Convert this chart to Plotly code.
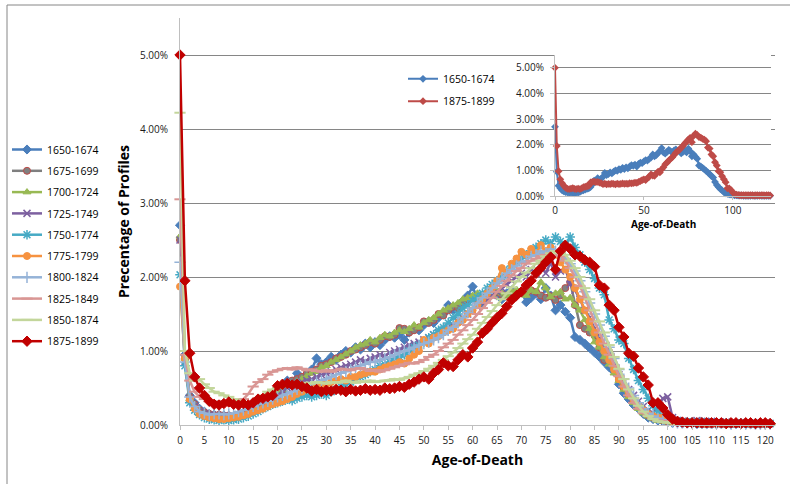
import plotly.graph_objects as go

ages = list(range(122))

series_names = ["1650-1674", "1675-1699", "1700-1724", "1725-1749", "1750-1774",
                "1775-1799", "1800-1824", "1825-1849", "1850-1874", "1875-1899"]

s1650 = [
    2.70, 0.95, 0.40, 0.30, 0.22, 0.18, 0.15, 0.14, 0.12, 0.13,
    0.12, 0.10, 0.14, 0.13, 0.16, 0.20, 0.22, 0.25, 0.28, 0.30,
    0.35, 0.45, 0.60, 0.58, 0.70, 0.62, 0.68, 0.75, 0.90, 0.82,
    0.85, 0.92, 0.88, 0.95, 1.00, 0.98, 1.05, 1.02, 1.10, 1.05,
    1.12, 1.08, 1.15, 1.20, 1.18, 1.22, 1.15, 1.25, 1.30, 1.28,
    1.35, 1.40, 1.38, 1.45, 1.50, 1.62, 1.55, 1.60, 1.68, 1.75,
    1.87, 1.70, 1.65, 1.72, 1.80, 1.75, 1.70, 1.78, 1.82, 1.75,
    1.80, 1.66, 1.72, 1.78, 1.70, 1.85, 1.75, 1.55, 1.62, 1.53,
    1.45, 1.19, 1.15, 1.10, 1.04, 0.98, 0.92, 0.85, 0.78, 0.72,
    0.55, 0.43, 0.35, 0.27, 0.22, 0.15, 0.10, 0.08, 0.06, 0.05,
    0.04, 0.03, 0.03, 0.02, 0.02, 0.02, 0.01, 0.01, 0.01, 0.01,
    0.01, 0.02, 0.01, 0.01, 0.01, 0.02, 0.01, 0.01, 0.01, 0.01,
    0.01, 0.01]

s1675 = [
    2.50, 0.90, 0.38, 0.28, 0.20, 0.17, 0.15, 0.13, 0.14, 0.12,
    0.13, 0.11, 0.13, 0.15, 0.17, 0.20, 0.24, 0.27, 0.30, 0.33,
    0.40, 0.48, 0.55, 0.60, 0.62, 0.65, 0.70, 0.72, 0.75, 0.80,
    0.82, 0.85, 0.90, 0.92, 0.95, 1.00, 1.02, 1.05, 1.08, 1.12,
    1.10, 1.15, 1.20, 1.19, 1.22, 1.31, 1.30, 1.25, 1.28, 1.32,
    1.40, 1.38, 1.42, 1.50, 1.48, 1.55, 1.60, 1.58, 1.65, 1.70,
    1.72, 1.70, 1.75, 1.78, 1.76, 1.80, 1.76, 1.75, 1.78, 1.80,
    1.80, 1.78, 1.82, 1.80, 1.75, 1.72, 1.74, 1.69, 1.75, 1.85,
    1.93, 1.62, 1.35, 1.30, 1.25, 1.21, 1.05, 0.88, 0.99, 0.80,
    0.62, 0.50, 0.40, 0.32, 0.25, 0.18, 0.13, 0.10, 0.08, 0.06,
    0.05, 0.04, 0.03, 0.03, 0.02, 0.02, 0.02, 0.01, 0.01, 0.01,
    0.02, 0.01, 0.01, 0.01, 0.01, 0.01, 0.02, 0.01, 0.01, 0.01,
    0.01, 0.01]

s1700 = [
    2.55, 0.90, 0.35, 0.22, 0.15, 0.12, 0.10, 0.08, 0.10, 0.09,
    0.07, 0.09, 0.12, 0.14, 0.16, 0.20, 0.25, 0.28, 0.32, 0.36,
    0.42, 0.48, 0.52, 0.55, 0.58, 0.62, 0.66, 0.70, 0.72, 0.78,
    0.80, 0.85, 0.88, 0.92, 0.96, 1.00, 1.05, 1.08, 1.10, 1.15,
    1.12, 1.18, 1.22, 1.20, 1.25, 1.28, 1.26, 1.30, 1.35, 1.32,
    1.38, 1.42, 1.45, 1.50, 1.55, 1.58, 1.62, 1.65, 1.70, 1.72,
    1.75, 1.78, 1.72, 1.80, 1.76, 1.82, 1.78, 1.75, 1.80, 1.83,
    1.78, 1.75, 1.82, 1.80, 1.93, 1.85, 1.73, 1.78, 1.80, 1.70,
    1.72, 1.62, 1.55, 1.42, 1.30, 1.12, 1.05, 0.92, 0.82, 0.70,
    0.60, 0.48, 0.38, 0.30, 0.22, 0.16, 0.12, 0.09, 0.06, 0.05,
    0.04, 0.03, 0.03, 0.02, 0.02, 0.02, 0.02, 0.01, 0.01, 0.01,
    0.01, 0.01, 0.02, 0.01, 0.01, 0.01, 0.01, 0.01, 0.02, 0.01,
    0.01, 0.01]

s1725 = [
    2.50, 0.85, 0.35, 0.25, 0.18, 0.15, 0.13, 0.12, 0.11, 0.12,
    0.11, 0.12, 0.14, 0.16, 0.18, 0.22, 0.25, 0.28, 0.32, 0.35,
    0.40, 0.45, 0.50, 0.52, 0.55, 0.58, 0.60, 0.62, 0.65, 0.68,
    0.70, 0.72, 0.75, 0.78, 0.80, 0.82, 0.85, 0.88, 0.86, 0.90,
    0.92, 0.95, 0.93, 0.98, 1.00, 1.02, 1.05, 1.08, 1.10, 1.12,
    1.15, 1.18, 1.22, 1.25, 1.28, 1.32, 1.35, 1.40, 1.45, 1.50,
    1.55, 1.60, 1.65, 1.70, 1.75, 1.80, 1.85, 1.90, 1.95, 2.00,
    2.05, 2.00, 2.10, 2.05, 2.15, 2.05, 2.20, 2.00, 2.08, 2.12,
    1.90, 1.82, 1.70, 1.55, 1.45, 1.30, 1.18, 1.05, 0.92, 0.80,
    0.68, 0.58, 0.48, 0.40, 0.32, 0.25, 0.20, 0.16, 0.25, 0.36,
    0.38, 0.10, 0.06, 0.05, 0.04, 0.04, 0.06, 0.05, 0.04, 0.05,
    0.03, 0.03, 0.04, 0.03, 0.02, 0.03, 0.02, 0.02, 0.02, 0.02,
    0.02, 0.02]

s1750 = [
    2.03, 0.80, 0.30, 0.20, 0.14, 0.10, 0.08, 0.07, 0.06, 0.07,
    0.06, 0.07, 0.08, 0.10, 0.12, 0.15, 0.18, 0.22, 0.25, 0.28,
    0.30, 0.32, 0.35, 0.33, 0.36, 0.38, 0.40, 0.38, 0.40, 0.42,
    0.40, 0.45, 0.48, 0.52, 0.55, 0.58, 0.62, 0.65, 0.68, 0.72,
    0.75, 0.80, 0.82, 0.85, 0.90, 0.92, 0.95, 1.00, 1.05, 1.08,
    1.12, 1.18, 1.22, 1.28, 1.32, 1.38, 1.45, 1.50, 1.58, 1.62,
    1.68, 1.72, 1.78, 1.85, 1.90, 1.95, 2.00, 2.08, 2.15, 2.20,
    2.25, 2.30, 2.35, 2.40, 2.45, 2.50, 2.45, 2.54, 2.48, 2.42,
    2.54, 2.40, 2.30, 2.20, 2.10, 1.98, 1.85, 1.76, 1.42, 1.30,
    1.15, 1.10, 0.90, 0.75, 0.60, 0.48, 0.36, 0.26, 0.18, 0.12,
    0.08, 0.06, 0.05, 0.04, 0.04, 0.04, 0.03, 0.04, 0.03, 0.03,
    0.03, 0.02, 0.03, 0.02, 0.02, 0.03, 0.02, 0.02, 0.02, 0.02,
    0.02, 0.02]

s1775 = [
    1.87, 0.90, 0.35, 0.22, 0.15, 0.12, 0.10, 0.09, 0.08, 0.08,
    0.09, 0.10, 0.11, 0.13, 0.15, 0.18, 0.20, 0.22, 0.25, 0.28,
    0.30, 0.32, 0.35, 0.38, 0.42, 0.45, 0.48, 0.50, 0.52, 0.55,
    0.55, 0.58, 0.60, 0.62, 0.60, 0.65, 0.65, 0.68, 0.70, 0.72,
    0.72, 0.75, 0.78, 0.80, 0.82, 0.85, 0.83, 0.90, 0.95, 1.00,
    1.15, 1.10, 1.18, 1.20, 1.25, 1.28, 1.30, 1.38, 1.42, 1.50,
    1.55, 1.62, 1.70, 1.78, 1.85, 1.95, 2.12, 2.05, 2.18, 2.25,
    2.34, 2.30, 2.38, 2.32, 2.43, 2.35, 2.40, 2.30, 2.20, 2.10,
    2.00, 1.85, 1.70, 1.55, 1.40, 1.25, 1.12, 1.00, 0.88, 0.75,
    0.62, 0.52, 0.42, 0.34, 0.26, 0.20, 0.15, 0.12, 0.10, 0.10,
    0.06, 0.05, 0.04, 0.04, 0.03, 0.03, 0.03, 0.02, 0.02, 0.02,
    0.02, 0.02, 0.03, 0.02, 0.02, 0.02, 0.02, 0.02, 0.02, 0.02,
    0.02, 0.02]

s1800 = [
    2.20, 0.85, 0.38, 0.25, 0.18, 0.16, 0.14, 0.15, 0.15, 0.14,
    0.15, 0.16, 0.18, 0.20, 0.22, 0.25, 0.28, 0.30, 0.32, 0.35,
    0.38, 0.40, 0.42, 0.45, 0.48, 0.50, 0.52, 0.55, 0.58, 0.60,
    0.62, 0.65, 0.68, 0.70, 0.72, 0.75, 0.78, 0.80, 0.82, 0.85,
    0.85, 0.88, 0.90, 0.92, 0.95, 0.98, 1.00, 1.02, 1.05, 1.08,
    1.10, 1.12, 1.15, 1.18, 1.22, 1.28, 1.32, 1.38, 1.45, 1.52,
    1.58, 1.65, 1.72, 1.78, 1.85, 1.92, 1.98, 2.05, 2.10, 2.15,
    2.20, 2.22, 2.28, 2.30, 2.35, 2.32, 2.38, 2.35, 2.30, 2.25,
    2.18, 2.08, 1.95, 1.80, 1.65, 1.50, 1.35, 1.20, 1.05, 0.90,
    0.75, 0.62, 0.50, 0.40, 0.30, 0.22, 0.16, 0.12, 0.09, 0.07,
    0.05, 0.04, 0.03, 0.03, 0.03, 0.02, 0.02, 0.02, 0.02, 0.02,
    0.02, 0.02, 0.02, 0.01, 0.02, 0.02, 0.01, 0.02, 0.01, 0.01,
    0.01, 0.01]

s1825 = [
    3.05, 0.95, 0.60, 0.45, 0.38, 0.35, 0.32, 0.30, 0.32, 0.30,
    0.28, 0.30, 0.32, 0.35, 0.42, 0.52, 0.58, 0.62, 0.68, 0.72,
    0.74, 0.76, 0.77, 0.75, 0.78, 0.76, 0.74, 0.75, 0.73, 0.72,
    0.74, 0.72, 0.74, 0.76, 0.75, 0.74, 0.76, 0.77, 0.75, 0.73,
    0.74, 0.72, 0.74, 0.76, 0.78, 0.80, 0.82, 0.84, 0.83, 0.85,
    0.88, 0.92, 0.95, 1.00, 1.05, 1.10, 1.15, 1.22, 1.28, 1.35,
    1.42, 1.50, 1.58, 1.65, 1.72, 1.80, 1.88, 1.95, 2.02, 2.08,
    2.12, 2.18, 2.22, 2.25, 2.28, 2.30, 2.32, 2.30, 2.28, 2.22,
    2.12, 2.00, 1.88, 1.72, 1.55, 1.40, 1.25, 1.10, 0.95, 0.80,
    0.66, 0.52, 0.40, 0.30, 0.22, 0.16, 0.12, 0.08, 0.06, 0.05,
    0.04, 0.03, 0.03, 0.02, 0.02, 0.02, 0.02, 0.01, 0.01, 0.01,
    0.01, 0.01, 0.01, 0.01, 0.01, 0.01, 0.01, 0.01, 0.01, 0.01,
    0.01, 0.01]

s1850 = [
    4.22, 1.00, 0.70, 0.60, 0.62, 0.55, 0.50, 0.45, 0.43, 0.40,
    0.38, 0.35, 0.33, 0.30, 0.28, 0.30, 0.35, 0.40, 0.45, 0.48,
    0.50, 0.52, 0.55, 0.54, 0.56, 0.55, 0.57, 0.56, 0.58, 0.57,
    0.56, 0.58, 0.57, 0.58, 0.60, 0.58, 0.57, 0.59, 0.58, 0.60,
    0.58, 0.59, 0.60, 0.60, 0.62, 0.61, 0.63, 0.65, 0.68, 0.70,
    0.73, 0.76, 0.80, 0.84, 0.88, 0.93, 0.98, 1.04, 1.10, 1.16,
    1.22, 1.30, 1.38, 1.46, 1.54, 1.62, 1.70, 1.78, 1.86, 1.94,
    2.00, 2.06, 2.12, 2.18, 2.22, 2.28, 2.32, 2.35, 2.33, 2.30,
    2.22, 2.12, 2.00, 1.85, 1.70, 1.55, 1.40, 1.25, 1.08, 0.92,
    0.76, 0.62, 0.48, 0.36, 0.26, 0.18, 0.12, 0.08, 0.05, 0.04,
    0.03, 0.03, 0.02, 0.02, 0.02, 0.02, 0.01, 0.01, 0.01, 0.01,
    0.01, 0.01, 0.01, 0.01, 0.01, 0.01, 0.01, 0.01, 0.01, 0.01,
    0.01, 0.01]

s1875 = [
    5.00, 1.95, 0.97, 0.65, 0.50, 0.40, 0.32, 0.28, 0.27, 0.29,
    0.31, 0.28, 0.27, 0.29, 0.27, 0.30, 0.35, 0.36, 0.38, 0.40,
    0.53, 0.55, 0.56, 0.54, 0.55, 0.52, 0.50, 0.46, 0.48, 0.45,
    0.47, 0.46, 0.48, 0.47, 0.45, 0.48, 0.46, 0.47, 0.49, 0.47,
    0.48, 0.47, 0.50, 0.49, 0.50, 0.52, 0.51, 0.55, 0.58, 0.62,
    0.65, 0.62, 0.70, 0.75, 0.84, 0.80, 0.79, 0.88, 0.95, 0.92,
    1.04, 1.12, 1.24, 1.30, 1.38, 1.45, 1.51, 1.60, 1.69, 1.75,
    1.80, 1.89, 1.95, 2.05, 2.12, 2.20, 2.27, 2.10, 2.35, 2.43,
    2.38, 2.30, 2.28, 2.23, 2.20, 2.14, 1.89, 1.85, 1.62, 1.55,
    1.32, 1.19, 0.97, 0.93, 0.77, 0.65, 0.54, 0.30, 0.30, 0.23,
    0.14, 0.08, 0.05, 0.04, 0.03, 0.03, 0.03, 0.03, 0.03, 0.03,
    0.03, 0.03, 0.02, 0.03, 0.03, 0.02, 0.03, 0.03, 0.02, 0.03,
    0.03, 0.02]

series_values = [s1650, s1675, s1700, s1725, s1750, s1775, s1800, s1825, s1850, s1875]
for v in series_values:
    assert len(v) == len(ages), len(v)

y_tick_values = [0, 1, 2, 3, 4, 5]
y_tick_labels = ["0.00%", "1.00%", "2.00%", "3.00%", "4.00%", "5.00%"]
inset_x_ticks = [0, 50, 100]

# ---- styles ----
styles = [
    dict(color="#4A7EBB", symbol="diamond", size=7, mfill="#4A7EBB", mline="#4A7EBB", mlw=1),
    dict(color="#7F7F7F", symbol="circle", size=7, mfill="#808080", mline="#BE4B48", mlw=1),
    dict(color="#98B954", symbol="triangle-up", size=7, mfill="#98B954", mline="#98B954", mlw=1),
    dict(color="#7D60A0", symbol="x-thin-open", size=7, mfill="#7D60A0", mline="#7D60A0", mlw=1.5),
    dict(color="#46AAC5", symbol="asterisk-open", size=8, mfill="#46AAC5", mline="#46AAC5", mlw=1.5),
    dict(color="#F69240", symbol="circle", size=7, mfill="#F69240", mline="#F69240", mlw=1),
    dict(color="#95B3D7", symbol="cross-thin-open", size=8, mfill="#95B3D7", mline="#95B3D7", mlw=1.5),
    dict(color="#D99694", symbol="line-ew-open", size=8, mfill="#D99694", mline="#D99694", mlw=2),
    dict(color="#C3D69B", symbol="line-ew-open", size=8, mfill="#C3D69B", mline="#C3D69B", mlw=2),
    dict(color="#C00000", symbol="diamond", size=8, mfill="#C00000", mline="#C00000", mlw=1),
]

FONT = "Open Sans"
GRID = "#868686"
AXIS = "#BFBFBF"
TXT = "#1a1a1a"

fig = go.Figure()

for i, (name, vals, st) in enumerate(zip(series_names, series_values, styles)):
    fig.add_trace(go.Scatter(
        x=ages, y=vals, name=name, mode="lines+markers",
        line=dict(color=st["color"], width=2.5),
        marker=dict(symbol=st["symbol"], size=st["size"], color=st["mfill"],
                    line=dict(color=st["mline"], width=st["mlw"])),
        cliponaxis=False, legendgroup="m%d" % i, legend="legend",
        xaxis="x", yaxis="y",
    ))

# inset: first and last period
inset_pairs = [(series_names[0], s1650, "#4A7EBB"), (series_names[-1], s1875, "#BE4B48")]
for j, (name, vals, col) in enumerate(inset_pairs):
    fig.add_trace(go.Scatter(
        x=ages, y=vals, name=name, mode="lines+markers",
        line=dict(color=col, width=2),
        marker=dict(symbol="diamond", size=6, color=col),
        cliponaxis=False, legendgroup="i%d" % j, legend="legend2",
        xaxis="x2", yaxis="y2",
    ))

W, H = 790, 484
L, R, T, B = 180, 15, 18, 59
pw, ph = W - L - R, H - T - B

def px_x(p):
    return (p - L) / pw

def px_y(p):
    return (H - B - p) / ph

ix0, ix1 = px_x(555), px_x(771)

fig.update_layout(
    width=W, height=H, autosize=False,
    margin=dict(l=L, r=R, t=T, b=B, autoexpand=False),
    paper_bgcolor="white", plot_bgcolor="white",
    font=dict(family=FONT, size=10, color=TXT),
    showlegend=True,
    xaxis=dict(
        domain=[0, 1], anchor="y", range=[0, 122],
        tick0=0, dtick=5, tickmode="linear", tickangle=0,
        ticks="outside", ticklen=4, tickcolor=AXIS,
        showline=True, linecolor=AXIS, linewidth=1,
        showgrid=False, zeroline=False, ticklabelstandoff=2,
        tickfont=dict(family=FONT, size=10, color=TXT),
        title=dict(text="<b>Age-of-Death</b>", font=dict(family=FONT, size=14, color="#000"), standoff=9),
    ),
    yaxis=dict(
        domain=[0, 1], anchor="x", range=[0, 5.5],
        tickmode="array", tickvals=y_tick_values, ticktext=y_tick_labels,
        showgrid=True, gridcolor=GRID, gridwidth=1,
        showline=True, linecolor=AXIS, linewidth=1,
        zeroline=False, ticks="",
        ticklabelstandoff=9,
        tickfont=dict(family=FONT, size=10, color=TXT),
        title=dict(text="<b>Precentage of Profiles</b>", font=dict(family=FONT, size=14, color="#000"), standoff=7),
    ),
    xaxis2=dict(
        domain=[ix0, ix1], anchor="y2", range=[0, 121.5],
        tickmode="array", tickvals=inset_x_ticks, tickangle=0,
        ticks="outside", ticklen=3, tickcolor=AXIS,
        showline=True, linecolor=AXIS, linewidth=1,
        showgrid=False, zeroline=False, ticklabelstandoff=2,
        tickfont=dict(family=FONT, size=10, color=TXT),
    ),
    yaxis2=dict(
        domain=[px_y(196), px_y(55)], anchor="x2", range=[0, 5.5],
        tickmode="array", tickvals=y_tick_values, ticktext=y_tick_labels,
        showgrid=True, gridcolor=GRID, gridwidth=1,
        showline=True, linecolor=AXIS, linewidth=1,
        zeroline=False, ticks="outside", ticklen=4, tickcolor=AXIS,
        ticklabelstandoff=4,
        tickfont=dict(family=FONT, size=10, color=TXT),
    ),
    legend=dict(
        xref="container", yref="container",
        x=7 / W, y=1 - 135 / H, xanchor="left", yanchor="top",
        font=dict(family=FONT, size=10.5, color="#000"),
        tracegroupgap=2.3, bgcolor="rgba(0,0,0,0)", borderwidth=0,
    ),
    legend2=dict(
        xref="container", yref="container",
        x=403 / W, y=1 - 64.3 / H, xanchor="left", yanchor="top",
        font=dict(family=FONT, size=10.5, color="#000"),
        tracegroupgap=3.4, bgcolor="rgba(0,0,0,0)", borderwidth=0,
    ),
    annotations=[dict(
        text="<b>Age-of-Death</b>", xref="paper", yref="paper",
        x=(ix0 + ix1) / 2, y=px_y(224), xanchor="center", yanchor="middle",
        showarrow=False, font=dict(family=FONT, size=10, color="#000"),
    )],
    shapes=[dict(
        type="rect", xref="paper", yref="paper", layer="below",
        x0=px_x(7), x1=px_x(800), y0=px_y(495), y1=px_y(5),
        line=dict(color=GRID, width=1), fillcolor="rgba(0,0,0,0)",
    )],
)

fig.write_html("out.html", config={"displayModeBar": False},
               post_script="document.body.style.margin='0px';")
